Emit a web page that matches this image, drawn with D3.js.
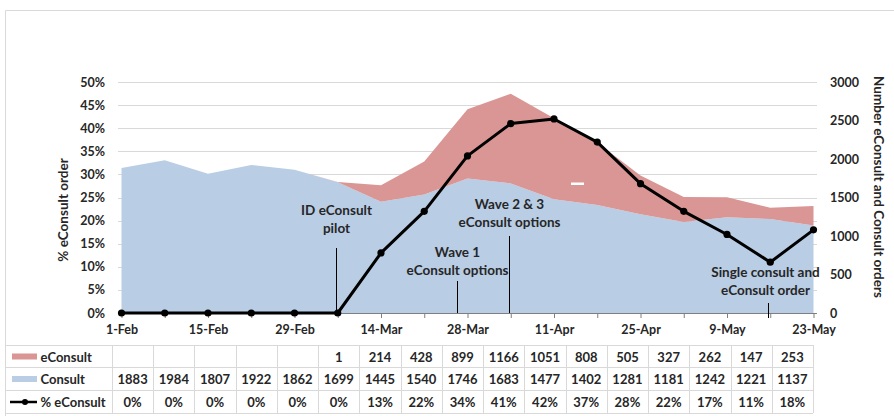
<!DOCTYPE html>
<html>
<head>
<meta charset="utf-8">
<script src="https://cdn.jsdelivr.net/npm/d3@7/dist/d3.min.js"></script>
<style>
  html, body { margin: 0; padding: 0; background: #fff; }
  svg { display: block; }
  text { font-family: Lato, "Open Sans", sans-serif; font-weight: bold; fill: #262626; }
</style>
</head>
<body>
<svg id="chart" width="894" height="416"></svg>
<script>
// ---- Data ----
const categories = ["1-Feb","8-Feb","15-Feb","22-Feb","29-Feb","7-Mar","14-Mar","21-Mar","28-Mar","4-Apr","11-Apr","18-Apr","25-Apr","2-May","9-May","16-May","23-May"];
const eConsult = [null,null,null,null,null,1,214,428,899,1166,1051,808,505,327,262,147,253];
const consult = [1883,1984,1807,1922,1862,1699,1445,1540,1746,1683,1477,1402,1281,1181,1242,1221,1137];
const pctEConsult = [0,0,0,0,0,0,0.13,0.22,0.34,0.41,0.42,0.37,0.28,0.22,0.17,0.11,0.18];
const leftTicks = [0,0.05,0.10,0.15,0.20,0.25,0.30,0.35,0.40,0.45,0.50];
const rightTicks = [0,500,1000,1500,2000,2500,3000];
const xLabelCats = ["1-Feb","15-Feb","29-Feb","14-Mar","28-Mar","11-Apr","25-Apr","9-May","23-May"];
const annotations = [
  {cat: "7-Mar", offset: -0.03, lines: ["ID eConsult", "pilot"], textY: 210, lineTop: 248, lineBottom: 313},
  {cat: "21-Mar", offset: 0.75, lines: ["Wave 1", "eConsult options"], textY: 252, lineTop: 281, lineBottom: 313},
  {cat: "4-Apr", offset: -0.04, lines: ["Wave 2 & 3", "eConsult options"], textY: 204, lineTop: 236, lineBottom: 313},
  {cat: "16-May", offset: -0.05, lines: ["Single consult and", "eConsult order"], textY: 272, lineTop: 303, lineBottom: 318, textDx: -3}
];

const colors = { eConsult: "#D99694", consult: "#B9CDE5", line: "#000000", grid: "#D9D9D9" };

// ---- Layout ----
const svg = d3.select("#chart");
const plot = { left: 118, right: 817, top: 82, bottom: 313 };
const x = d3.scalePoint().domain(categories).range([121.5, 813.5]);
const step = x.step();
const yL = d3.scaleLinear().domain([0, 0.5]).range([plot.bottom, plot.top]);
const yR = d3.scaleLinear().domain([0, 3000]).range([plot.bottom, plot.top]);

// chart border
svg.append("path").attr("d", "M5.5,416 V10.5 H894")
  .attr("fill", "none").attr("stroke", "#D9D9D9").attr("stroke-width", 1);

// gridlines
svg.append("g").selectAll("line").data(leftTicks).join("line")
  .attr("x1", plot.left).attr("x2", plot.right)
  .attr("y1", d => Math.round(yL(d)) + 0.5).attr("y2", d => Math.round(yL(d)) + 0.5)
  .attr("stroke", colors.grid).attr("stroke-width", 1);

// stacked areas
const rows = categories.map((c, i) => ({ cat: c, consult: consult[i], eConsult: eConsult[i] || 0 }));
const stack = d3.stack().keys(["consult", "eConsult"])(rows);
const area = d3.area()
  .x(d => x(d.data.cat))
  .y0(d => yR(d[0]))
  .y1(d => yR(d[1]));
svg.append("g").selectAll("path").data(stack).join("path")
  .attr("d", area)
  .attr("fill", d => d.key === "consult" ? colors.consult : colors.eConsult);

// small white dash artifact
svg.append("rect").attr("x", x("11-Apr") + 17).attr("y", 182.5).attr("width", 13).attr("height", 2.5).attr("fill", "#fff");

// x axis
const xAxis = d3.axisBottom(x).tickSize(5).tickPadding(7)
  .tickFormat(d => xLabelCats.includes(d) ? d : "");
const gx = svg.append("g").attr("transform", `translate(0,${plot.bottom})`).call(xAxis);
gx.select(".domain").attr("d", `M${plot.left},0.5H${plot.right}`).attr("stroke", "#7F7F7F");
gx.selectAll(".tick line").attr("stroke", "#7F7F7F");
gx.selectAll(".tick text").attr("font-family", "Lato, sans-serif").attr("font-weight", "bold")
  .attr("font-size", 12.5).attr("fill", "#262626");

// left axis
const gl = svg.append("g").attr("transform", `translate(${plot.left},0)`)
  .call(d3.axisLeft(yL).tickValues(leftTicks).tickSize(0).tickPadding(13).tickFormat(d3.format(".0%")));
gl.select(".domain").remove();
gl.selectAll(".tick text").attr("font-family", "Lato, sans-serif").attr("font-weight", "bold")
  .attr("font-size", 12.5).attr("fill", "#262626");

// right axis
const gr = svg.append("g").attr("transform", `translate(${plot.right},0)`)
  .call(d3.axisRight(yR).tickValues(rightTicks).tickSize(0).tickPadding(13).tickFormat(d3.format("d")));
gr.select(".domain").remove();
gr.selectAll(".tick text").attr("font-family", "Lato, sans-serif").attr("font-weight", "bold")
  .attr("font-size", 12.5).attr("fill", "#262626");

// axis titles
svg.append("text").attr("transform", "translate(63,210) rotate(-90)")
  .attr("text-anchor", "middle").attr("dominant-baseline", "central")
  .attr("font-size", 13.5).text("% eConsult order");
svg.append("text").attr("transform", "translate(879,187) rotate(90)")
  .attr("text-anchor", "middle").attr("dominant-baseline", "central")
  .attr("font-size", 13.5).text("Number eConsult and Consult orders");

// annotations
const ga = svg.append("g");
annotations.forEach(a => {
  const ax = Math.round(x(a.cat) + a.offset * step) + 0.5;
  ga.append("line").attr("x1", ax).attr("x2", ax).attr("y1", a.lineTop).attr("y2", a.lineBottom)
    .attr("stroke", "#000").attr("stroke-width", 1);
  a.lines.forEach((t, i) => {
    ga.append("text").attr("x", ax + (a.textDx || 0)).attr("y", a.textY + i * 18)
      .attr("text-anchor", "middle").attr("dominant-baseline", "central")
      .attr("font-size", 13.5).text(t);
  });
});

// % eConsult line
const line = d3.line().x((d, i) => x(categories[i])).y(d => yL(d));
svg.append("path").datum(pctEConsult).attr("d", line)
  .attr("fill", "none").attr("stroke", colors.line).attr("stroke-width", 3).attr("stroke-linejoin", "round");
svg.append("g").selectAll("circle").data(pctEConsult).join("circle")
  .attr("cx", (d, i) => x(categories[i])).attr("cy", d => yL(d)).attr("r", 3.6).attr("fill", colors.line);

// ---- Data table ----
const table = { left: 6, headRight: 112, right: 813, rowsY: [345, 367, 390, 413] };
const colW = (table.right - table.headRight) / categories.length;
const gt = svg.append("g");
table.rowsY.forEach(yy => {
  gt.append("line").attr("x1", table.left).attr("x2", table.right)
    .attr("y1", yy + 0.5).attr("y2", yy + 0.5).attr("stroke", "#D9D9D9");
});
d3.range(categories.length + 1).forEach(i => {
  const xx = Math.round(table.headRight + i * colW) + 0.5;
  gt.append("line").attr("x1", xx).attr("x2", xx).attr("y1", table.rowsY[0]).attr("y2", table.rowsY[3])
    .attr("stroke", "#D9D9D9");
});
const tableRows = [
  { name: "eConsult", values: eConsult, fmt: d => d == null ? "" : d3.format("d")(d), key: "rect", color: colors.eConsult },
  { name: "Consult", values: consult, fmt: d => d3.format("d")(d), key: "rect", color: colors.consult },
  { name: "% eConsult", values: pctEConsult, fmt: d => d3.format(".0%")(d), key: "line", color: colors.line }
];
tableRows.forEach((r, ri) => {
  const cy = (table.rowsY[ri] + table.rowsY[ri + 1]) / 2 + 0.5;
  if (r.key === "rect") {
    gt.append("rect").attr("x", 12).attr("y", cy - 3).attr("width", 25).attr("height", 6).attr("fill", r.color);
  } else {
    gt.append("line").attr("x1", 10).attr("x2", 37).attr("y1", cy).attr("y2", cy)
      .attr("stroke", r.color).attr("stroke-width", 2.5);
    gt.append("circle").attr("cx", 25).attr("cy", cy).attr("r", 3).attr("fill", r.color);
  }
  gt.append("text").attr("x", 40.5).attr("y", cy).attr("dominant-baseline", "central")
    .attr("font-size", 13).text(r.name);
  gt.selectAll(null).data(r.values).join("text")
    .attr("x", (d, i) => table.headRight + (i + 0.5) * colW)
    .attr("y", cy).attr("text-anchor", "middle").attr("dominant-baseline", "central")
    .attr("font-size", 13).text(d => r.fmt(d));
});
</script>
</body>
</html>
